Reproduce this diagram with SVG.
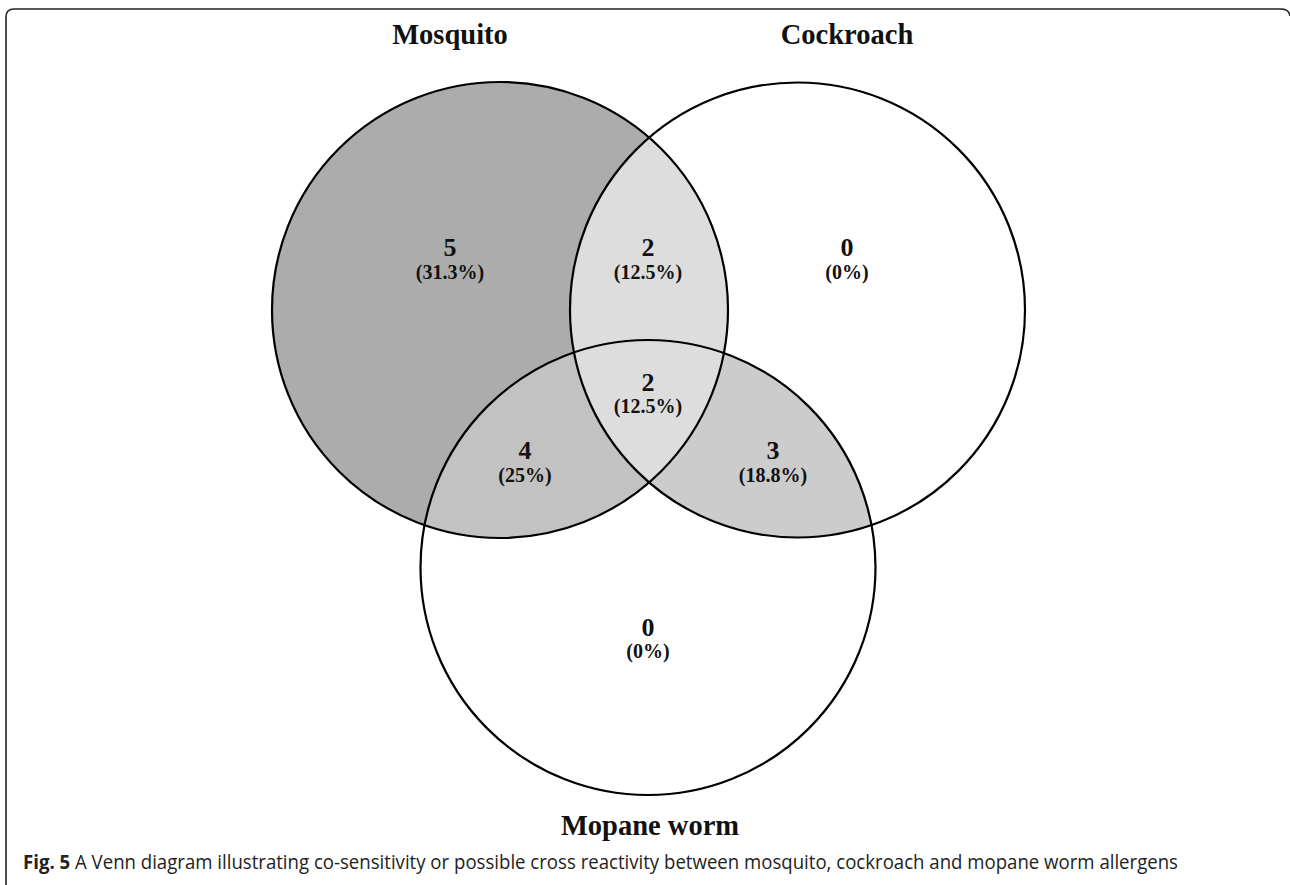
<svg xmlns="http://www.w3.org/2000/svg" width="1290" height="885" viewBox="0 0 1290 885">
<style>
.t{font-family:"Liberation Serif","Times New Roman",serif;font-weight:bold;fill:#111;text-anchor:middle}
.title{font-size:28.5px}
.n{font-size:26px}
.p{font-size:20px}
.c{fill:none;stroke:#000;stroke-width:2.2}
.cap{font-family:"Open Sans","Noto Sans",sans-serif;font-size:20px;fill:#222}
</style>
<defs>
<clipPath id="clipM"><circle cx="500" cy="310" r="228"/></clipPath>
<clipPath id="clipC"><circle cx="797.5" cy="310" r="227.5"/></clipPath>
</defs>
<path d="M6,885 L6,17 Q6,9 14,9 L1281,9 Q1289,9 1290,16" fill="none" stroke="#222" stroke-width="1.6"/>
<g id="fills">
<circle cx="500" cy="310" r="228" fill="#acacac"/>
<circle cx="648" cy="567.5" r="227.5" fill="#cccccc" clip-path="url(#clipC)"/>
<circle cx="648" cy="567.5" r="227.5" fill="#c2c2c2" clip-path="url(#clipM)"/>
<circle cx="797.5" cy="310" r="227.5" fill="#dddddd" clip-path="url(#clipM)"/>
</g>
<g id="mosquito">
<circle class="c" cx="500" cy="310" r="228"/>
<text class="t title" x="450" y="44">Mosquito</text>
</g>
<g id="cockroach">
<circle class="c" cx="797.5" cy="310" r="227.5"/>
<text class="t title" x="847" y="44">Cockroach</text>
</g>
<g id="mopane">
<circle class="c" cx="648" cy="567.5" r="227.5"/>
<text class="t title" x="650" y="835">Mopane worm</text>
</g>
<g id="labels">
<text class="t n" x="450" y="256">5</text>
<text class="t p" x="450" y="279">(31.3%)</text>
<text class="t n" x="648" y="256">2</text>
<text class="t p" x="648" y="279">(12.5%)</text>
<text class="t n" x="847" y="256">0</text>
<text class="t p" x="847" y="279">(0%)</text>
<text class="t n" x="648" y="391">2</text>
<text class="t p" x="648" y="413">(12.5%)</text>
<text class="t n" x="525" y="459">4</text>
<text class="t p" x="525" y="482">(25%)</text>
<text class="t n" x="773" y="459">3</text>
<text class="t p" x="773" y="482">(18.8%)</text>
<text class="t n" x="648" y="636">0</text>
<text class="t p" x="648" y="658">(0%)</text>
</g>
<g id="caption">
<text class="cap" x="23" y="869" textLength="1155" lengthAdjust="spacingAndGlyphs"><tspan font-weight="bold">Fig. 5</tspan> A Venn diagram illustrating co-sensitivity or possible cross reactivity between mosquito, cockroach and mopane worm allergens</text>
</g>
<g id="connectors"></g>
</svg>
